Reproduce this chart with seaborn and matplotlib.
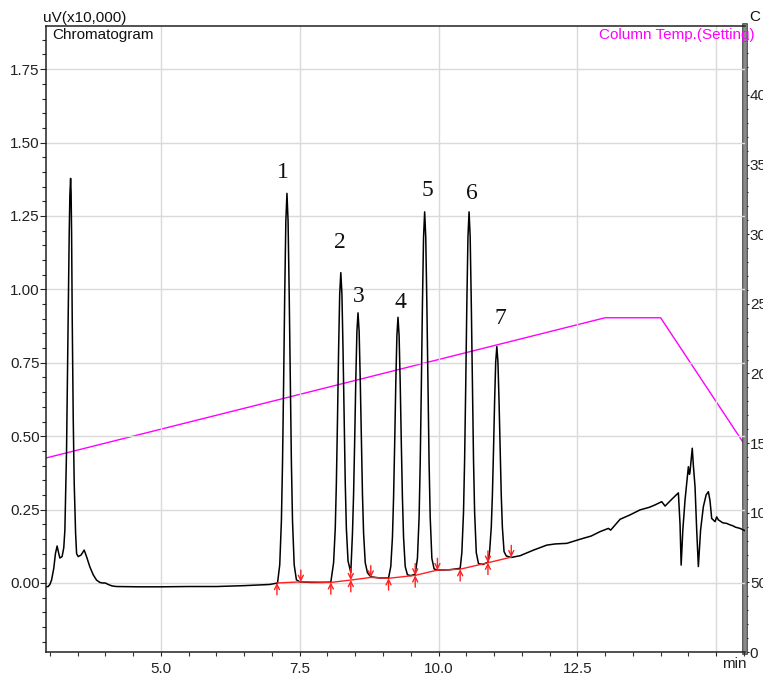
import numpy as np
import pandas as pd
import matplotlib
matplotlib.use("Agg")
import matplotlib.pyplot as plt
import seaborn as sns
from matplotlib.ticker import MultipleLocator, FixedLocator, FormatStrFormatter
import matplotlib.patheffects as pe

sns.set_style("ticks")
plt.rcParams["font.family"] = ["Liberation Sans", "DejaVu Sans"]

# ---------------- data ----------------
# Chromatogram trace: retention time (min) and signal (uV x10,000)
trace_t = [
    2.93, 2.97, 3.00, 3.03, 3.07, 3.10, 3.13, 3.16, 3.18, 3.22, 3.25, 3.27, 3.30, 3.319, 3.337,
    3.348, 3.36, 3.373, 3.382, 3.391, 3.402, 3.42, 3.438, 3.463, 3.481, 3.51, 3.56, 3.618, 3.66,
    3.72, 3.78, 3.84, 3.90, 3.95, 4.00, 4.05, 4.12, 4.20, 4.6, 5.0, 5.5, 6.0, 6.5, 6.96, 7.05,
    7.10, 7.14, 7.17, 7.19, 7.21, 7.23, 7.25, 7.27, 7.29, 7.31, 7.33, 7.35, 7.37, 7.40, 7.44, 7.50,
    7.70, 7.90, 8.06,
    8.11, 8.14, 8.16, 8.18, 8.20, 8.22, 8.24, 8.26, 8.28, 8.30, 8.32, 8.34, 8.37, 8.42,
    8.45, 8.47, 8.49, 8.51, 8.53, 8.55, 8.57, 8.59, 8.61, 8.63, 8.65, 8.68, 8.72, 8.78, 8.95, 9.10,
    9.14, 9.17, 9.19, 9.21, 9.23, 9.25, 9.27, 9.29, 9.31, 9.33, 9.35, 9.37, 9.40, 9.44, 9.50, 9.58,
    9.62, 9.65, 9.67, 9.69, 9.71, 9.73, 9.75, 9.77, 9.79, 9.81, 9.83, 9.85, 9.88, 9.92, 9.98,
    10.20, 10.39,
    10.42, 10.45, 10.47, 10.49, 10.51, 10.53, 10.55, 10.57, 10.59, 10.61, 10.63, 10.65, 10.68,
    10.72, 10.80, 10.89,
    10.92, 10.95, 10.97, 10.99, 11.01, 11.03, 11.05, 11.07, 11.09, 11.11, 11.13, 11.15, 11.18,
    11.22, 11.31,
    11.47, 11.71, 11.95, 12.10, 12.31, 12.55, 12.75, 12.91, 13.06, 13.10, 13.27, 13.45, 13.63,
    13.80, 13.90, 14.02, 14.08, 14.20, 14.32, 14.35, 14.37, 14.40, 14.44, 14.48, 14.50, 14.52,
    14.53, 14.57, 14.59, 14.62, 14.65, 14.68, 14.72, 14.77, 14.82, 14.86, 14.89, 14.92, 14.98,
    15.01, 15.04, 15.12, 15.19, 15.25, 15.30, 15.35, 15.43, 15.52,
]
trace_v = [
    -0.013, -0.012, -0.005, 0.010, 0.050, 0.100, 0.126, 0.100, 0.085, 0.090, 0.120, 0.180, 0.450,
    0.737, 1.020, 1.190, 1.320, 1.378, 1.330, 1.190, 0.907, 0.566, 0.340, 0.170, 0.100, 0.090,
    0.095, 0.112, 0.090, 0.055, 0.028, 0.010, 0.002, 0.000, 0.000, -0.005, -0.010, -0.012, -0.013,
    -0.013, -0.012, -0.012, -0.009, -0.005, -0.002,
    0.000, 0.062, 0.212, 0.409, 0.684, 0.988, 1.233, 1.327, 1.233, 0.988, 0.684, 0.409, 0.212,
    0.062, 0.011, 0.004,
    0.002, 0.002, 0.003,
    0.069, 0.186, 0.340, 0.555, 0.793, 0.984, 1.057, 0.984, 0.793, 0.555, 0.340, 0.186, 0.075,
    0.036,
    0.170, 0.302, 0.487, 0.692, 0.857, 0.920, 0.857, 0.692, 0.487, 0.302, 0.170, 0.069, 0.035,
    0.021, 0.017, 0.017,
    0.056, 0.156, 0.289, 0.473, 0.678, 0.842, 0.905, 0.842, 0.678, 0.473, 0.289, 0.156, 0.056,
    0.028, 0.025, 0.030,
    0.084, 0.224, 0.408, 0.664, 0.948, 1.176, 1.264, 1.176, 0.948, 0.664, 0.408, 0.224, 0.084,
    0.048, 0.044,
    0.045, 0.050,
    0.103, 0.241, 0.421, 0.674, 0.953, 1.178, 1.264, 1.178, 0.953, 0.674, 0.421, 0.241, 0.103,
    0.066, 0.063, 0.071,
    0.107, 0.190, 0.298, 0.450, 0.618, 0.753, 0.805, 0.753, 0.618, 0.450, 0.298, 0.190, 0.107,
    0.092, 0.087,
    0.093, 0.112, 0.129, 0.133, 0.135, 0.149, 0.160, 0.175, 0.186, 0.180, 0.217, 0.232, 0.249,
    0.258, 0.266, 0.277, 0.262, 0.285, 0.307, 0.200, 0.061, 0.180, 0.283, 0.360, 0.396, 0.370,
    0.379, 0.459, 0.400, 0.328, 0.180, 0.056, 0.180, 0.260, 0.300, 0.311, 0.280, 0.220, 0.209,
    0.225, 0.215, 0.205, 0.203, 0.198, 0.195, 0.190, 0.186, 0.178,
]

# Integration baseline: peak start/end points
base_t = [7.09, 7.52, 8.06, 8.42, 8.78, 9.10, 9.58, 9.98, 10.39, 10.89, 11.31]
base_v = [0.000, 0.004, 0.002, 0.010, 0.019, 0.016, 0.026, 0.044, 0.047, 0.069, 0.088]
start_marks = [7.09, 8.06, 8.42, 9.10, 9.58, 10.39, 10.89]
end_marks = [7.52, 8.42, 8.78, 9.58, 9.98, 10.89, 11.31]

# Peak labels
peak_labels = ["1", "2", "3", "4", "5", "6", "7"]
peak_t = [7.27, 8.24, 8.55, 9.27, 9.75, 10.55, 11.05]
peak_h = [1.327, 1.057, 0.920, 0.905, 1.264, 1.264, 0.805]

# Column temperature program (setting), deg C
temp_t = [2.93, 13.0, 14.0, 15.52]
temp_c = [139.3, 240.0, 240.0, 148.5]

x_tick_vals = [5.0, 7.5, 10.0, 12.5, 15.0]
x_tick_labels = ["5.0", "7.5", "10.0", "12.5", ""]

# ---------------- figure ----------------
W, H = 763, 675
fig = plt.figure(figsize=(W / 100, H / 100), dpi=100)
ax = fig.add_axes([46 / W, 23 / H, 699 / W, 626 / H])
ax2 = ax.twinx()
ax.set_zorder(2)
ax.patch.set_visible(False)

df_trace = pd.DataFrame({"t": trace_t, "v": trace_v})
sns.lineplot(data=df_trace, x="t", y="v", ax=ax, color="black", lw=1.1,
             estimator=None, sort=False)

df_base = pd.DataFrame({"t": base_t, "v": base_v})
sns.lineplot(data=df_base, x="t", y="v", ax=ax, color="#ff2020", lw=1.0,
             estimator=None, sort=False)

base_lookup = dict(zip(base_t, base_v))
for t in start_marks:
    ax.annotate("", xy=(t, base_lookup[t]), xytext=(0, -8.5), textcoords="offset points",
                arrowprops=dict(arrowstyle="->", color="#ff2020", lw=1.0,
                                shrinkA=0, shrinkB=0, mutation_scale=9))
for t in end_marks:
    ax.annotate("", xy=(t, base_lookup[t]), xytext=(0, 8.5), textcoords="offset points",
                arrowprops=dict(arrowstyle="->", color="#ff2020", lw=1.0,
                                shrinkA=0, shrinkB=0, mutation_scale=9))

label_dx = [-0.07, -0.01, 0.005, 0.05, 0.055, 0.05, 0.07]
label_dy = [0.07, 0.103, 0.055, 0.049, 0.072, 0.063, 0.096]
for lab, t, h, dx, dy in zip(peak_labels, peak_t, peak_h, label_dx, label_dy):
    ax.text(t + dx, h + dy, lab, ha="center", va="center", fontsize=17,
            family=["Liberation Serif", "DejaVu Serif"], color="#111111")

df_temp = pd.DataFrame({"t": temp_t, "c": temp_c})
sns.lineplot(data=df_temp, x="t", y="c", ax=ax2, color="#ff00ff", lw=1.0,
             estimator=None, sort=False)

# ---------------- axes ----------------
ax.set_xlim(2.93, 15.52)
ax.set_ylim(-0.235, 1.897)
ax2.set_ylim(0, 449.5)
ax.set_xlabel("")
ax.set_ylabel("")
ax2.set_ylabel("")

ax.xaxis.set_major_locator(FixedLocator(x_tick_vals))
ax.set_xticklabels(x_tick_labels)
ax.xaxis.set_minor_locator(MultipleLocator(0.5))
ax.yaxis.set_major_locator(MultipleLocator(0.25))
ax.yaxis.set_minor_locator(MultipleLocator(0.05))
ax.yaxis.set_major_formatter(FormatStrFormatter("%.2f"))
ax2.yaxis.set_major_locator(MultipleLocator(50))
ax2.yaxis.set_minor_locator(MultipleLocator(10))
ax2.yaxis.set_major_formatter(FormatStrFormatter("%d"))

ax.grid(True, which="major", color="#dadada", lw=1.0)
ax.set_axisbelow(True)

ax.tick_params(axis="x", which="major", direction="out", length=3, width=0.8,
               pad=4, labelsize=11, colors="#222222", labelcolor="#222222")
ax.tick_params(axis="x", which="minor", direction="out", length=3, width=0.8, colors="#333333")
ax.tick_params(axis="y", which="major", direction="out", length=4, width=0.8,
               pad=0.5, labelsize=11, labelcolor="#222222")
ax.tick_params(axis="y", which="minor", direction="out", length=3, width=0.8)
ax2.tick_params(axis="y", which="major", direction="out", length=3, width=0.8,
                pad=0.5, labelsize=11, labelcolor="#222222")
ax2.tick_params(axis="y", which="minor", direction="out", length=2.5, width=0.8)

for s in ["left", "bottom", "top"]:
    ax.spines[s].set_color("#222222")
    ax.spines[s].set_linewidth(1.1)
ax.spines["right"].set_visible(False)
for s in ["left", "bottom", "top"]:
    ax2.spines[s].set_visible(False)
ax2.spines["right"].set_color("#8a8a8a")
ax2.spines["right"].set_linewidth(2.6)
ax2.spines["right"].set_path_effects([pe.withStroke(linewidth=4.0, foreground="#333333")])

# ---------------- texts ----------------
ax.text(0.009, 0.985, "Chromatogram", transform=ax.transAxes, ha="left", va="center",
        fontsize=11, color="#111111")
ax.text(1.0143, 0.985, "Column Temp.(Setting)", transform=ax.transAxes, ha="right",
        va="center", fontsize=11, color="#ff00ff")
fig.text(43 / W, 1 - 18 / H, "uV(x10,000)", ha="left", va="center", fontsize=11,
         color="#111111")
fig.text(749 / W, 1 - 17 / H, "C", ha="left", va="center", fontsize=11, color="#111111")
fig.text(734 / W, 1 - 664 / H, "min", ha="center", va="center", fontsize=11, color="#222222")

fig.savefig("out.png", dpi=100)
